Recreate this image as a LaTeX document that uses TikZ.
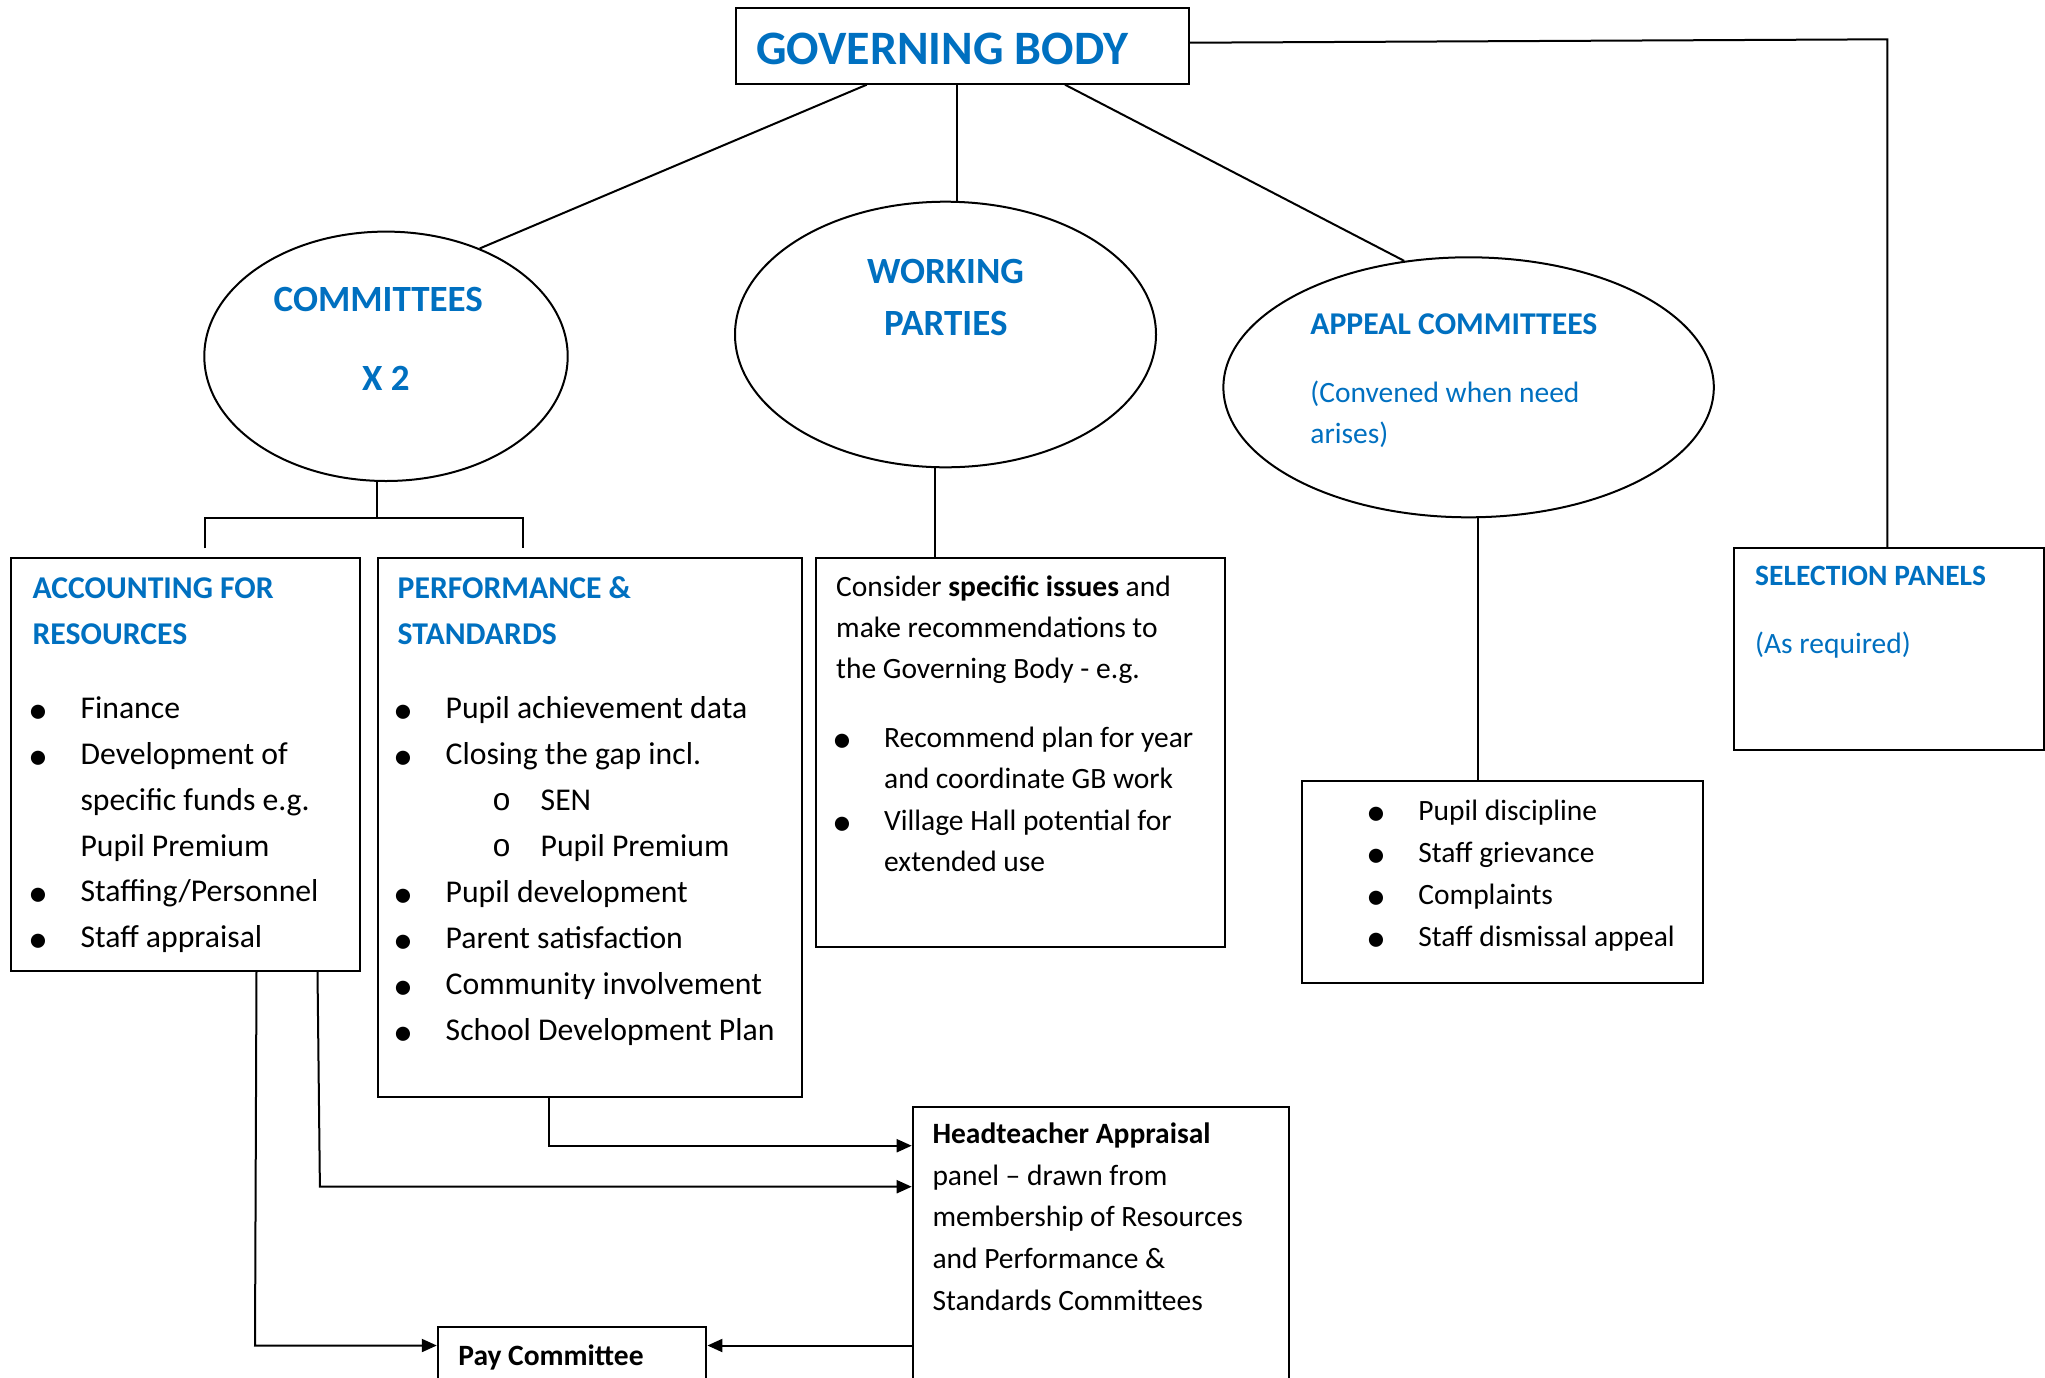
\documentclass[tikz,border=0pt]{standalone}
\usepackage{fontspec}
\setmainfont{Carlito}
\newfontfamily\monof{Liberation Mono}
\usetikzlibrary{shapes.geometric,arrows.meta,calc}
\definecolor{gblue}{RGB}{0,112,192}
\newcommand\bodyf{\fontsize{29.5}{41}\selectfont}
\newcommand\bodyL{\fontsize{31.7}{44}\selectfont}
\newcommand\headf{\fontsize{31.7}{44}\selectfont\bfseries\color{gblue}}
\newcommand\bulg{\raisebox{-5pt}{\fontsize{40}{40}\selectfont\char"2022}}
\newcommand\bitem[1]{\hbox{\hbox to 12pt{\hss\bulg\hss}\hskip36pt #1}}
\newcommand\sitem[1]{\hbox{\hskip98pt\hbox to 12pt{\hss{\monof o}\hss}\hskip33pt #1}}
\newcommand\citem[1]{\hbox{\hskip48pt #1}}
\newcommand\blk[2]{\vtop{\baselineskip=#1pt\lineskiplimit=-100pt\lineskip=0pt #2}}
\begin{document}
\begin{tikzpicture}[x=1pt,y=-1pt,
  box/.style={draw, line width=2pt, rectangle, inner sep=0pt, anchor=north west},
  oval/.style={draw, ellipse, line width=2pt, inner sep=0pt},
  conn/.style={line width=2pt},
  arr/.style={line width=2pt, -{Triangle[length=15pt,width=13pt]}},
  txt/.style={anchor=base west, inner sep=0pt, font=\bodyf},
  ctitle/.style={anchor=base, inner sep=0pt, font=\fontsize{37}{37}\selectfont\bfseries, text=gblue}]
\useasboundingbox (0,0) rectangle (2045,1377);
\clip (0,0) rectangle (2045,1377);
\fill[white] (0,0) rectangle (2045,1377);

% boxes
\node[box, minimum width=452.7pt, minimum height=75.4pt] (gb) at (735,7.3) {};
\node[box, minimum width=348.9pt, minimum height=412.3pt] (acc) at (10.4,557.3) {};
\node[box, minimum width=423.5pt, minimum height=538.2pt] (perf) at (377.3,557.3) {};
\node[box, minimum width=409pt, minimum height=388.4pt] (wb) at (815,557.3) {};
\node[box, minimum width=400.3pt, minimum height=201.7pt] (apl) at (1301.3,780) {};
\node[box, minimum width=309.6pt, minimum height=202pt] (sel) at (1733.4,547.3) {};
\node[box, minimum width=376pt, minimum height=300pt] (ht) at (911.7,1105.7) {};
\node[box, minimum width=268.6pt, minimum height=100pt] (pay) at (436.8,1326.4) {};

% ellipses
\node[oval, minimum width=363.4pt, minimum height=249.4pt] (comm) at (386,356.3) {};
\node[oval, minimum width=421pt, minimum height=265.6pt] (wp) at (945.5,334.5) {};
\node[oval, minimum width=490.4pt, minimum height=260pt] (apc) at (1468.6,387.3) {};

% texts
\node[anchor=base west, inner sep=0pt, font=\fontsize{48}{48}\selectfont\bfseries, text=gblue] (gbT) at (756,64) {GOVERNING BODY};
\node[ctitle] (commT1) at (378.3,311.7) {COMMITTEES};
\node[ctitle] (commT2) at (385.8,390) {X 2};
\node[ctitle] (wpT1) at (945.5,283.3) {WORKING};
\node[ctitle] (wpT2) at (945.8,335.7) {PARTIES};
\node[txt] (apcT) at (1310.2,334.3) {\blk{40.6}{\hbox{\headf APPEAL COMMITTEES}\vskip 27.8pt
  \hbox{\color{gblue}(Convened when need}\hbox{\color{gblue}arises)}}};

\node[txt, font=\bodyL] (accT) at (32.4,598.9) {\blk{45.8}{%
  \hbox{\headf ACCOUNTING FOR}
  \hbox{\headf RESOURCES}
  \vskip 28.1pt
  \bitem{Finance}
  \bitem{Development of}
  \citem{specific funds e.g.}
  \citem{Pupil Premium}
  \bitem{Staffing/Personnel}
  \bitem{Staff appraisal}}};

\node[txt, font=\bodyL] (perfT) at (397.5,598.9) {\blk{46}{%
  \hbox{\headf PERFORMANCE \&}
  \hbox{\headf STANDARDS}
  \vskip 27.9pt
  \bitem{Pupil achievement data}
  \bitem{Closing the gap incl.}
  \sitem{SEN}
  \sitem{Pupil Premium}
  \bitem{Pupil development}
  \bitem{Parent satisfaction}
  \bitem{Community involvement}
  \bitem{School Development Plan}}};

\node[txt] (wbT) at (836,596) {\blk{41.3}{%
  \hbox{Consider \textbf{specific issues} and}
  \hbox{make recommendations to}
  \hbox{the Governing Body - e.g.}
  \vskip 27.7pt
  \bitem{Recommend plan for year}
  \citem{and coordinate GB work}
  \bitem{Village Hall potential for}
  \citem{extended use}}};

\node[txt] (aplT) at (1370.2,820) {\blk{42.2}{%
  \bitem{Pupil discipline}
  \bitem{Staff grievance}
  \bitem{Complaints}
  \bitem{Staff dismissal appeal}}};

\node[txt] (selT) at (1755,585) {\blk{68.3}{%
  \hbox{\bfseries\color{gblue}SELECTION PANELS}
  \hbox{\color{gblue}(As required)}}};

\node[txt] (htT) at (932.3,1143.3) {\blk{41.7}{%
  \hbox{\bfseries Headteacher Appraisal}
  \hbox{panel – drawn from}
  \hbox{membership of Resources}
  \hbox{and Performance \&}
  \hbox{Standards Committees}}};

\node[txt, font=\bodyf\bfseries] (payT) at (458.2,1365) {Pay Committee};

% connectors from governing body
\draw[conn] ($(gb.south west)+(131.7,0)$) -- (comm.49.5);
\coordinate (g2) at ($(gb.south west)+(222.3,0)$);
\draw[conn] (g2) -- (g2 |- wp.north);
\draw[conn] ($(gb.south west)+(330,0)$) -- (apc.117);
\coordinate (sc) at (1887.4,39.3);
\draw[conn] ($(gb.east)+(0,-3.3)$) -- (sc) -- (sc |- sel.north);

% committees branch
\coordinate (cj) at (377.3,517.7);
\coordinate (cl) at (205,548.3);
\coordinate (cr) at (523.3,548.3);
\draw[conn] (cj |- comm.south) -- (cj);
\draw[conn] (cl) |- (cj) -| (cr);

% working parties and appeals
\coordinate (wx) at (935,0);
\draw[conn] (wx |- wp.south) -- (wx |- wb.north);
\coordinate (ax) at (1477.5,0);
\draw[conn] (ax |- apc.south) -- (ax |- apl.north);

% arrows
\coordinate (px) at (548.8,1145.7);
\draw[arr] (px |- perf.south) -- (px) -- (px -| ht.west);
\coordinate (a1) at (317.5,0);
\coordinate (a1b) at (319.9,1186.7);
\draw[arr] (a1 |- acc.south) -- (a1b) -- (a1b -| ht.west);
\coordinate (a2) at (256.5,0);
\coordinate (a2b) at (255,1345.5);
\draw[arr] (a2 |- acc.south) -- (a2b) -- (a2b -| pay.west);
\draw[arr] (a2b -| ht.west) -- (a2b -| pay.east);
\end{tikzpicture}
\end{document}
